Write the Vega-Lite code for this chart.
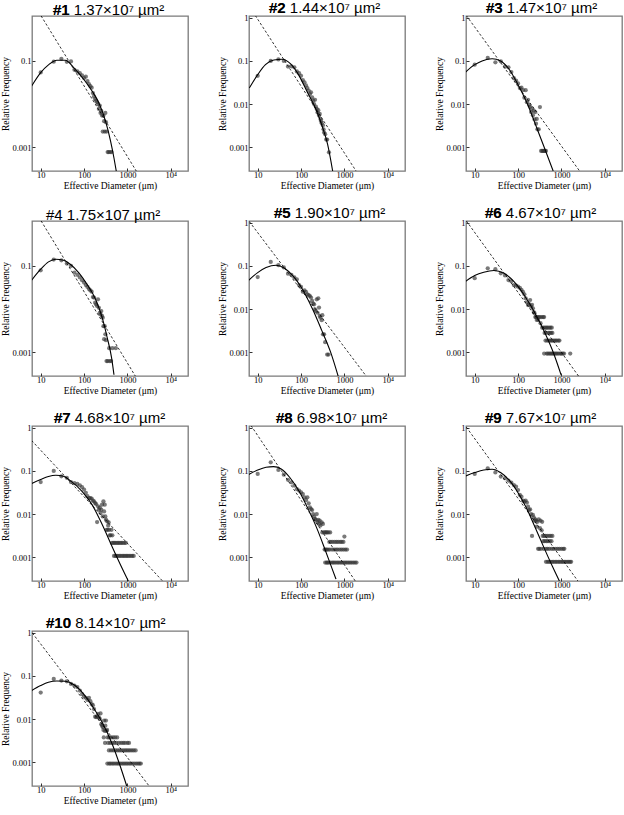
{
"$schema": "https://vega.github.io/schema/vega-lite/v6.json",
"padding": {"left": 0, "top": 0, "right": 0, "bottom": 0},
"columns": 3,
"spacing": {"row": 14, "column": 28},
"datasets": {
"pts": [
{"p":1,"x":10,"y":0.054},{"p":1,"x":20,"y":0.096},{"p":1,"x":30,"y":0.112},{"p":1,"x":40,"y":0.095},{"p":1,"x":50,"y":0.097},{"p":1,"x":60,"y":0.062},{"p":1,"x":70,"y":0.057},{"p":1,"x":80,"y":0.052},{"p":1,"x":90,"y":0.046},{"p":1,"x":100,"y":0.040},{"p":1,"x":110,"y":0.043},{"p":1,"x":120,"y":0.034},{"p":1,"x":130,"y":0.029},{"p":1,"x":140,"y":0.026},{"p":1,"x":150,"y":0.024},{"p":1,"x":160,"y":0.018},{"p":1,"x":170,"y":0.015},{"p":1,"x":180,"y":0.013},{"p":1,"x":190,"y":0.012},{"p":1,"x":200,"y":0.011},{"p":1,"x":210,"y":0.0100},{"p":1,"x":220,"y":0.0077},{"p":1,"x":230,"y":0.0092},{"p":1,"x":240,"y":0.0062},{"p":1,"x":250,"y":0.0069},{"p":1,"x":260,"y":0.0054},{"p":1,"x":270,"y":0.0023},{"p":1,"x":280,"y":0.0054},{"p":1,"x":290,"y":0.0040},{"p":1,"x":300,"y":0.0023},{"p":1,"x":310,"y":0.0062},{"p":1,"x":320,"y":0.0038},{"p":1,"x":330,"y":0.0023},{"p":1,"x":350,"y":0.00077},{"p":1,"x":370,"y":0.00077},{"p":1,"x":400,"y":0.00077},{"p":1,"x":430,"y":0.00077},
{"p":2,"x":10,"y":0.045},{"p":2,"x":20,"y":0.10},{"p":2,"x":30,"y":0.108},{"p":2,"x":40,"y":0.10},{"p":2,"x":50,"y":0.074},{"p":2,"x":60,"y":0.075},{"p":2,"x":70,"y":0.071},{"p":2,"x":80,"y":0.057},{"p":2,"x":90,"y":0.052},{"p":2,"x":100,"y":0.045},{"p":2,"x":110,"y":0.036},{"p":2,"x":120,"y":0.032},{"p":2,"x":130,"y":0.027},{"p":2,"x":140,"y":0.0235},{"p":2,"x":150,"y":0.0205},{"p":2,"x":160,"y":0.017},{"p":2,"x":170,"y":0.0187},{"p":2,"x":180,"y":0.0143},{"p":2,"x":190,"y":0.012},{"p":2,"x":200,"y":0.010},{"p":2,"x":210,"y":0.0125},{"p":2,"x":220,"y":0.0087},{"p":2,"x":230,"y":0.0077},{"p":2,"x":240,"y":0.0064},{"p":2,"x":250,"y":0.0072},{"p":2,"x":260,"y":0.0054},{"p":2,"x":270,"y":0.0059},{"p":2,"x":280,"y":0.0045},{"p":2,"x":290,"y":0.004},{"p":2,"x":300,"y":0.0036},{"p":2,"x":320,"y":0.0032},{"p":2,"x":330,"y":0.0026},{"p":2,"x":340,"y":0.0022},{"p":2,"x":360,"y":0.0020},{"p":2,"x":380,"y":0.0015},{"p":2,"x":400,"y":0.0015},{"p":2,"x":440,"y":0.00076},
{"p":3,"x":10,"y":0.082},{"p":3,"x":20,"y":0.117},{"p":3,"x":30,"y":0.093},{"p":3,"x":40,"y":0.098},{"p":3,"x":50,"y":0.074},{"p":3,"x":60,"y":0.071},{"p":3,"x":70,"y":0.055},{"p":3,"x":80,"y":0.040},{"p":3,"x":90,"y":0.035},{"p":3,"x":100,"y":0.030},{"p":3,"x":110,"y":0.0235},{"p":3,"x":120,"y":0.024},{"p":3,"x":130,"y":0.021},{"p":3,"x":140,"y":0.014},{"p":3,"x":150,"y":0.021},{"p":3,"x":160,"y":0.011},{"p":3,"x":170,"y":0.0125},{"p":3,"x":180,"y":0.0095},{"p":3,"x":190,"y":0.0086},{"p":3,"x":200,"y":0.0065},{"p":3,"x":210,"y":0.0078},{"p":3,"x":220,"y":0.0055},{"p":3,"x":230,"y":0.007},{"p":3,"x":240,"y":0.0044},{"p":3,"x":250,"y":0.0065},{"p":3,"x":260,"y":0.0035},{"p":3,"x":270,"y":0.0045},{"p":3,"x":280,"y":0.0026},{"p":3,"x":300,"y":0.0026},{"p":3,"x":320,"y":0.0085},{"p":3,"x":340,"y":0.00082},{"p":3,"x":360,"y":0.00082},{"p":3,"x":380,"y":0.00082},{"p":3,"x":400,"y":0.00082},{"p":3,"x":420,"y":0.00082},{"p":3,"x":440,"y":0.00082},
{"p":4,"x":10,"y":0.079},{"p":4,"x":20,"y":0.14},{"p":4,"x":30,"y":0.135},{"p":4,"x":40,"y":0.113},{"p":4,"x":50,"y":0.10},{"p":4,"x":60,"y":0.070},{"p":4,"x":70,"y":0.062},{"p":4,"x":80,"y":0.054},{"p":4,"x":90,"y":0.0465},{"p":4,"x":100,"y":0.041},{"p":4,"x":110,"y":0.036},{"p":4,"x":120,"y":0.0325},{"p":4,"x":130,"y":0.029},{"p":4,"x":140,"y":0.027},{"p":4,"x":150,"y":0.0253},{"p":4,"x":160,"y":0.019},{"p":4,"x":170,"y":0.0185},{"p":4,"x":180,"y":0.014},{"p":4,"x":190,"y":0.0128},{"p":4,"x":200,"y":0.0117},{"p":4,"x":210,"y":0.0168},{"p":4,"x":220,"y":0.0107},{"p":4,"x":230,"y":0.0082},{"p":4,"x":240,"y":0.0075},{"p":4,"x":250,"y":0.009},{"p":4,"x":260,"y":0.0069},{"p":4,"x":270,"y":0.0063},{"p":4,"x":280,"y":0.0040},{"p":4,"x":290,"y":0.0020},{"p":4,"x":300,"y":0.0040},{"p":4,"x":310,"y":0.0026},{"p":4,"x":320,"y":0.0019},{"p":4,"x":330,"y":0.00062},{"p":4,"x":350,"y":0.00062},{"p":4,"x":380,"y":0.00124},{"p":4,"x":390,"y":0.00062},{"p":4,"x":420,"y":0.00062},{"p":4,"x":450,"y":0.00124},{"p":4,"x":540,"y":0.00124},
{"p":5,"x":10,"y":0.055},{"p":5,"x":20,"y":0.124},{"p":5,"x":30,"y":0.104},{"p":5,"x":40,"y":0.092},{"p":5,"x":50,"y":0.066},{"p":5,"x":60,"y":0.062},{"p":5,"x":70,"y":0.054},{"p":5,"x":80,"y":0.049},{"p":5,"x":90,"y":0.036},{"p":5,"x":100,"y":0.0325},{"p":5,"x":110,"y":0.0253},{"p":5,"x":120,"y":0.027},{"p":5,"x":130,"y":0.025},{"p":5,"x":140,"y":0.022},{"p":5,"x":150,"y":0.021},{"p":5,"x":160,"y":0.020},{"p":5,"x":170,"y":0.0184},{"p":5,"x":180,"y":0.0154},{"p":5,"x":190,"y":0.0133},{"p":5,"x":200,"y":0.0129},{"p":5,"x":210,"y":0.0098},{"p":5,"x":220,"y":0.009},{"p":5,"x":230,"y":0.0168},{"p":5,"x":240,"y":0.0082},{"p":5,"x":250,"y":0.0177},{"p":5,"x":260,"y":0.0108},{"p":5,"x":270,"y":0.0069},{"p":5,"x":280,"y":0.0063},{"p":5,"x":300,"y":0.0055},{"p":5,"x":310,"y":0.0072},{"p":5,"x":320,"y":0.0026},{"p":5,"x":340,"y":0.0026},{"p":5,"x":360,"y":0.0017},{"p":5,"x":400,"y":0.00088},{"p":5,"x":430,"y":0.00088},
{"p":6,"x":10,"y":0.052},{"p":6,"x":20,"y":0.088},{"p":6,"x":30,"y":0.084},{"p":6,"x":40,"y":0.0675},{"p":6,"x":50,"y":0.060},{"p":6,"x":60,"y":0.047},{"p":6,"x":70,"y":0.044},{"p":6,"x":80,"y":0.036},{"p":6,"x":90,"y":0.035},{"p":6,"x":100,"y":0.033},{"p":6,"x":110,"y":0.031},{"p":6,"x":120,"y":0.028},{"p":6,"x":130,"y":0.025},{"p":6,"x":140,"y":0.022},{"p":6,"x":150,"y":0.0177},{"p":6,"x":160,"y":0.0143},{"p":6,"x":170,"y":0.0124},{"p":6,"x":180,"y":0.013},{"p":6,"x":190,"y":0.0162},{"p":6,"x":200,"y":0.0115},{"p":6,"x":210,"y":0.0125},{"p":6,"x":220,"y":0.0104},{"p":6,"x":230,"y":0.0085},{"p":6,"x":240,"y":0.008},{"p":6,"x":250,"y":0.0065},{"p":6,"x":260,"y":0.0065},{"p":6,"x":270,"y":0.0056},{"p":6,"x":280,"y":0.0065},{"p":6,"x":290,"y":0.0056},{"p":6,"x":300,"y":0.0065},{"p":6,"x":320,"y":0.0065},{"p":6,"x":330,"y":0.0047},{"p":6,"x":350,"y":0.0065},{"p":6,"x":360,"y":0.0037},{"p":6,"x":380,"y":0.0065},{"p":6,"x":390,"y":0.0037},{"p":6,"x":400,"y":0.0065},{"p":6,"x":410,"y":0.0028},{"p":6,"x":420,"y":0.0037},{"p":6,"x":440,"y":0.0028},{"p":6,"x":450,"y":0.0037},{"p":6,"x":480,"y":0.0037},{"p":6,"x":500,"y":0.0028},{"p":6,"x":520,"y":0.0037},{"p":6,"x":540,"y":0.0028},{"p":6,"x":560,"y":0.0037},{"p":6,"x":580,"y":0.0028},{"p":6,"x":600,"y":0.0037},{"p":6,"x":620,"y":0.0028},
{"p":6,"x":430,"y":0.00186},{"p":6,"x":470,"y":0.00186},{"p":6,"x":510,"y":0.00186},{"p":6,"x":550,"y":0.00186},{"p":6,"x":590,"y":0.00186},{"p":6,"x":630,"y":0.00186},{"p":6,"x":680,"y":0.00186},{"p":6,"x":730,"y":0.00186},{"p":6,"x":780,"y":0.00186},{"p":6,"x":850,"y":0.00186},{"p":6,"x":900,"y":0.00186},
{"p":6,"x":400,"y":0.00093},{"p":6,"x":460,"y":0.00093},{"p":6,"x":490,"y":0.00093},{"p":6,"x":530,"y":0.00093},{"p":6,"x":570,"y":0.00093},{"p":6,"x":610,"y":0.00093},{"p":6,"x":650,"y":0.00093},{"p":6,"x":700,"y":0.00093},{"p":6,"x":750,"y":0.00093},{"p":6,"x":800,"y":0.00093},{"p":6,"x":870,"y":0.00093},{"p":6,"x":950,"y":0.00093},{"p":6,"x":1000,"y":0.00093},{"p":6,"x":1080,"y":0.00093},{"p":6,"x":1150,"y":0.00093},{"p":6,"x":1600,"y":0.00093},
{"p":7,"x":10,"y":0.055},{"p":7,"x":20,"y":0.10},{"p":7,"x":30,"y":0.075},{"p":7,"x":40,"y":0.069},{"p":7,"x":50,"y":0.055},{"p":7,"x":60,"y":0.052},{"p":7,"x":70,"y":0.050},{"p":7,"x":80,"y":0.0465},{"p":7,"x":90,"y":0.042},{"p":7,"x":100,"y":0.037},{"p":7,"x":110,"y":0.031},{"p":7,"x":120,"y":0.026},{"p":7,"x":130,"y":0.0235},{"p":7,"x":140,"y":0.0235},{"p":7,"x":150,"y":0.0228},{"p":7,"x":160,"y":0.0204},{"p":7,"x":170,"y":0.0197},{"p":7,"x":180,"y":0.018},{"p":7,"x":190,"y":0.017},{"p":7,"x":200,"y":0.0065},{"p":7,"x":210,"y":0.0151},{"p":7,"x":220,"y":0.0126},{"p":7,"x":230,"y":0.014},{"p":7,"x":240,"y":0.0106},{"p":7,"x":250,"y":0.0126},{"p":7,"x":260,"y":0.0165},{"p":7,"x":270,"y":0.0088},{"p":7,"x":280,"y":0.0197},{"p":7,"x":290,"y":0.0115},{"p":7,"x":300,"y":0.0165},{"p":7,"x":310,"y":0.0088},{"p":7,"x":320,"y":0.0074},{"p":7,"x":330,"y":0.0043},{"p":7,"x":340,"y":0.0068},{"p":7,"x":350,"y":0.0043},{"p":7,"x":360,"y":0.0054},{"p":7,"x":370,"y":0.0064},{"p":7,"x":380,"y":0.0043},{"p":7,"x":390,"y":0.0032},{"p":7,"x":410,"y":0.0032},{"p":7,"x":430,"y":0.0043},{"p":7,"x":450,"y":0.0032},
{"p":7,"x":440,"y":0.00214},{"p":7,"x":470,"y":0.00214},{"p":7,"x":500,"y":0.00214},{"p":7,"x":540,"y":0.00214},{"p":7,"x":580,"y":0.00214},{"p":7,"x":620,"y":0.00214},{"p":7,"x":670,"y":0.00214},{"p":7,"x":720,"y":0.00214},{"p":7,"x":780,"y":0.00214},{"p":7,"x":850,"y":0.00214},{"p":7,"x":920,"y":0.00214},
{"p":7,"x":490,"y":0.00107},{"p":7,"x":530,"y":0.00107},{"p":7,"x":560,"y":0.00107},{"p":7,"x":600,"y":0.00107},{"p":7,"x":650,"y":0.00107},{"p":7,"x":700,"y":0.00107},{"p":7,"x":760,"y":0.00107},{"p":7,"x":820,"y":0.00107},{"p":7,"x":880,"y":0.00107},{"p":7,"x":950,"y":0.00107},{"p":7,"x":1020,"y":0.00107},{"p":7,"x":1100,"y":0.00107},{"p":7,"x":1200,"y":0.00107},{"p":7,"x":1300,"y":0.00107},{"p":7,"x":1400,"y":0.00107},
{"p":8,"x":10,"y":0.085},{"p":8,"x":20,"y":0.158},{"p":8,"x":30,"y":0.105},{"p":8,"x":40,"y":0.082},{"p":8,"x":50,"y":0.062},{"p":8,"x":60,"y":0.0545},{"p":8,"x":70,"y":0.0456},{"p":8,"x":80,"y":0.038},{"p":8,"x":90,"y":0.035},{"p":8,"x":100,"y":0.032},{"p":8,"x":110,"y":0.029},{"p":8,"x":120,"y":0.0244},{"p":8,"x":130,"y":0.021},{"p":8,"x":140,"y":0.0244},{"p":8,"x":150,"y":0.0177},{"p":8,"x":160,"y":0.0143},{"p":8,"x":170,"y":0.013},{"p":8,"x":180,"y":0.0124},{"p":8,"x":190,"y":0.010},{"p":8,"x":200,"y":0.0087},{"p":8,"x":210,"y":0.0077},{"p":8,"x":220,"y":0.0073},{"p":8,"x":230,"y":0.010},{"p":8,"x":240,"y":0.0064},{"p":8,"x":250,"y":0.0073},{"p":8,"x":260,"y":0.0059},{"p":8,"x":270,"y":0.0070},{"p":8,"x":280,"y":0.0054},{"p":8,"x":300,"y":0.0064},{"p":8,"x":320,"y":0.0059},
{"p":8,"x":310,"y":0.00375},{"p":8,"x":340,"y":0.00375},{"p":8,"x":360,"y":0.00375},{"p":8,"x":380,"y":0.00375},{"p":8,"x":400,"y":0.00375},{"p":8,"x":430,"y":0.00375},{"p":8,"x":470,"y":0.00375},
{"p":8,"x":450,"y":0.00225},{"p":8,"x":490,"y":0.00225},{"p":8,"x":540,"y":0.00225},{"p":8,"x":600,"y":0.00225},{"p":8,"x":660,"y":0.00225},{"p":8,"x":720,"y":0.00225},{"p":8,"x":800,"y":0.00225},{"p":8,"x":870,"y":0.00225},{"p":8,"x":950,"y":0.00225},{"p":8,"x":1000,"y":0.0030},
{"p":8,"x":350,"y":0.0015},{"p":8,"x":370,"y":0.0015},{"p":8,"x":390,"y":0.0015},{"p":8,"x":420,"y":0.0015},{"p":8,"x":460,"y":0.0015},{"p":8,"x":520,"y":0.0015},{"p":8,"x":580,"y":0.0015},{"p":8,"x":640,"y":0.0015},{"p":8,"x":700,"y":0.0015},{"p":8,"x":780,"y":0.0015},{"p":8,"x":860,"y":0.0015},{"p":8,"x":950,"y":0.0015},{"p":8,"x":1050,"y":0.0015},{"p":8,"x":1150,"y":0.0015},
{"p":8,"x":360,"y":0.00075},{"p":8,"x":390,"y":0.00075},{"p":8,"x":410,"y":0.00075},{"p":8,"x":440,"y":0.00075},{"p":8,"x":480,"y":0.00075},{"p":8,"x":530,"y":0.00075},{"p":8,"x":570,"y":0.00075},{"p":8,"x":620,"y":0.00075},{"p":8,"x":680,"y":0.00075},{"p":8,"x":740,"y":0.00075},{"p":8,"x":810,"y":0.00075},{"p":8,"x":880,"y":0.00075},{"p":8,"x":960,"y":0.00075},{"p":8,"x":1040,"y":0.00075},{"p":8,"x":1130,"y":0.00075},{"p":8,"x":1230,"y":0.00075},{"p":8,"x":1340,"y":0.00075},{"p":8,"x":1460,"y":0.00075},{"p":8,"x":1600,"y":0.00075},{"p":8,"x":1750,"y":0.00075},{"p":8,"x":1900,"y":0.00075},
{"p":9,"x":10,"y":0.085},{"p":9,"x":20,"y":0.115},{"p":9,"x":30,"y":0.092},{"p":9,"x":40,"y":0.074},{"p":9,"x":50,"y":0.068},{"p":9,"x":60,"y":0.0597},{"p":9,"x":70,"y":0.0536},{"p":9,"x":80,"y":0.047},{"p":9,"x":90,"y":0.0432},{"p":9,"x":100,"y":0.036},{"p":9,"x":110,"y":0.0277},{"p":9,"x":120,"y":0.0253},{"p":9,"x":130,"y":0.0204},{"p":9,"x":140,"y":0.0194},{"p":9,"x":150,"y":0.0204},{"p":9,"x":160,"y":0.0184},{"p":9,"x":170,"y":0.0148},{"p":9,"x":180,"y":0.0124},{"p":9,"x":190,"y":0.0128},{"p":9,"x":200,"y":0.010},{"p":9,"x":210,"y":0.0031},{"p":9,"x":220,"y":0.0095},{"p":9,"x":230,"y":0.0084},{"p":9,"x":240,"y":0.007},{"p":9,"x":250,"y":0.0075},{"p":9,"x":260,"y":0.007},{"p":9,"x":270,"y":0.0051},{"p":9,"x":280,"y":0.0066},{"p":9,"x":300,"y":0.0075},{"p":9,"x":320,"y":0.0047},{"p":9,"x":330,"y":0.007},{"p":9,"x":350,"y":0.0042},{"p":9,"x":360,"y":0.0066},
{"p":9,"x":370,"y":0.0031},{"p":9,"x":400,"y":0.0031},{"p":9,"x":430,"y":0.0031},{"p":9,"x":470,"y":0.0031},{"p":9,"x":520,"y":0.0031},{"p":9,"x":570,"y":0.0031},{"p":9,"x":620,"y":0.0031},
{"p":9,"x":380,"y":0.00234},{"p":9,"x":410,"y":0.00234},{"p":9,"x":450,"y":0.00234},{"p":9,"x":490,"y":0.00234},{"p":9,"x":540,"y":0.00234},{"p":9,"x":590,"y":0.00234},
{"p":9,"x":290,"y":0.00156},{"p":9,"x":310,"y":0.00156},{"p":9,"x":340,"y":0.00156},{"p":9,"x":390,"y":0.00156},{"p":9,"x":440,"y":0.00156},{"p":9,"x":480,"y":0.00156},{"p":9,"x":530,"y":0.00156},{"p":9,"x":600,"y":0.00156},{"p":9,"x":660,"y":0.00156},{"p":9,"x":740,"y":0.00156},{"p":9,"x":820,"y":0.00156},{"p":9,"x":900,"y":0.00156},{"p":9,"x":1000,"y":0.00156},{"p":9,"x":1100,"y":0.00156},{"p":9,"x":1170,"y":0.00156},
{"p":9,"x":440,"y":0.00078},{"p":9,"x":480,"y":0.00078},{"p":9,"x":520,"y":0.00078},{"p":9,"x":560,"y":0.00078},{"p":9,"x":610,"y":0.00078},{"p":9,"x":660,"y":0.00078},{"p":9,"x":720,"y":0.00078},{"p":9,"x":780,"y":0.00078},{"p":9,"x":850,"y":0.00078},{"p":9,"x":920,"y":0.00078},{"p":9,"x":1000,"y":0.00078},{"p":9,"x":1080,"y":0.00078},{"p":9,"x":1170,"y":0.00078},{"p":9,"x":1260,"y":0.00078},{"p":9,"x":1360,"y":0.00078},{"p":9,"x":1470,"y":0.00078},{"p":9,"x":1580,"y":0.00078},{"p":9,"x":1680,"y":0.00078},
{"p":10,"x":10,"y":0.041},{"p":10,"x":20,"y":0.085},{"p":10,"x":30,"y":0.078},{"p":10,"x":40,"y":0.075},{"p":10,"x":50,"y":0.065},{"p":10,"x":60,"y":0.0596},{"p":10,"x":70,"y":0.055},{"p":10,"x":80,"y":0.0456},{"p":10,"x":90,"y":0.038},{"p":10,"x":100,"y":0.033},{"p":10,"x":110,"y":0.031},{"p":10,"x":120,"y":0.0277},{"p":10,"x":130,"y":0.031},{"p":10,"x":140,"y":0.026},{"p":10,"x":150,"y":0.0223},{"p":10,"x":160,"y":0.021},{"p":10,"x":170,"y":0.017},{"p":10,"x":180,"y":0.0113},{"p":10,"x":190,"y":0.011},{"p":10,"x":200,"y":0.0113},{"p":10,"x":210,"y":0.0131},{"p":10,"x":220,"y":0.011},{"p":10,"x":230,"y":0.0101},{"p":10,"x":240,"y":0.0135},{"p":10,"x":250,"y":0.0076},{"p":10,"x":260,"y":0.0070},{"p":10,"x":270,"y":0.0065},{"p":10,"x":280,"y":0.0056},{"p":10,"x":290,"y":0.0092},{"p":10,"x":300,"y":0.0053},{"p":10,"x":310,"y":0.0070},{"p":10,"x":320,"y":0.0092},{"p":10,"x":330,"y":0.0053},{"p":10,"x":340,"y":0.0056},
{"p":10,"x":285,"y":0.00374},{"p":10,"x":350,"y":0.00374},{"p":10,"x":380,"y":0.00374},{"p":10,"x":420,"y":0.00374},{"p":10,"x":470,"y":0.00374},{"p":10,"x":520,"y":0.00374},{"p":10,"x":580,"y":0.00374},
{"p":10,"x":305,"y":0.0028},{"p":10,"x":360,"y":0.0028},{"p":10,"x":400,"y":0.0028},{"p":10,"x":450,"y":0.0028},{"p":10,"x":500,"y":0.0028},{"p":10,"x":560,"y":0.0028},{"p":10,"x":640,"y":0.0028},{"p":10,"x":720,"y":0.0028},{"p":10,"x":800,"y":0.0028},{"p":10,"x":880,"y":0.0028},{"p":10,"x":1000,"y":0.0028},{"p":10,"x":1090,"y":0.0028},
{"p":10,"x":375,"y":0.00187},{"p":10,"x":420,"y":0.00187},{"p":10,"x":470,"y":0.00187},{"p":10,"x":530,"y":0.00187},{"p":10,"x":590,"y":0.00187},{"p":10,"x":650,"y":0.00187},{"p":10,"x":720,"y":0.00187},{"p":10,"x":800,"y":0.00187},{"p":10,"x":880,"y":0.00187},{"p":10,"x":960,"y":0.00187},{"p":10,"x":1050,"y":0.00187},{"p":10,"x":1150,"y":0.00187},{"p":10,"x":1270,"y":0.00187},{"p":10,"x":1400,"y":0.00187},{"p":10,"x":1550,"y":0.00187},
{"p":10,"x":345,"y":0.00093},{"p":10,"x":380,"y":0.00093},{"p":10,"x":410,"y":0.00093},{"p":10,"x":450,"y":0.00093},{"p":10,"x":490,"y":0.00093},{"p":10,"x":540,"y":0.00093},{"p":10,"x":590,"y":0.00093},{"p":10,"x":640,"y":0.00093},{"p":10,"x":700,"y":0.00093},{"p":10,"x":770,"y":0.00093},{"p":10,"x":840,"y":0.00093},{"p":10,"x":920,"y":0.00093},{"p":10,"x":1000,"y":0.00093},{"p":10,"x":1100,"y":0.00093},{"p":10,"x":1200,"y":0.00093},{"p":10,"x":1320,"y":0.00093},{"p":10,"x":1450,"y":0.00093},{"p":10,"x":1600,"y":0.00093},{"p":10,"x":1750,"y":0.00093},{"p":10,"x":1900,"y":0.00093},{"p":10,"x":2040,"y":0.00093}
],
"fit": [
{"p":1,"x":6.18,"y":0.0262},{"p":1,"x":10,"y":0.0536},{"p":1,"x":15.1,"y":0.081},{"p":1,"x":23.6,"y":0.104},{"p":1,"x":36.8,"y":0.104},{"p":1,"x":57.5,"y":0.070},{"p":1,"x":98,"y":0.0375},{"p":1,"x":153,"y":0.020},{"p":1,"x":219,"y":0.0107},{"p":1,"x":313,"y":0.0040},{"p":1,"x":409,"y":0.00138},{"p":1,"x":490,"y":0.00056},{"p":1,"x":555,"y":0.000275},
{"p":2,"x":6.4,"y":0.0235},{"p":2,"x":10,"y":0.048},{"p":2,"x":15.1,"y":0.082},{"p":2,"x":23.6,"y":0.105},{"p":2,"x":36.8,"y":0.109},{"p":2,"x":57.5,"y":0.085},{"p":2,"x":89.8,"y":0.0456},{"p":2,"x":140,"y":0.0187},{"p":2,"x":219,"y":0.0077},{"p":2,"x":313,"y":0.0029},{"p":2,"x":409,"y":0.00117},{"p":2,"x":536,"y":0.00028},
{"p":3,"x":6.07,"y":0.0545},{"p":3,"x":10,"y":0.082},{"p":3,"x":14.8,"y":0.10},{"p":3,"x":25.3,"y":0.112},{"p":3,"x":39.5,"y":0.10},{"p":3,"x":61.6,"y":0.065},{"p":3,"x":96.6,"y":0.030},{"p":3,"x":165,"y":0.010},{"p":3,"x":282,"y":0.0025},{"p":3,"x":403,"y":0.00098},{"p":3,"x":646,"y":0.00028},
{"p":4,"x":6.18,"y":0.0465},{"p":4,"x":10,"y":0.0837},{"p":4,"x":15.1,"y":0.124},{"p":4,"x":22.3,"y":0.143},{"p":4,"x":33.6,"y":0.135},{"p":4,"x":48,"y":0.109},{"p":4,"x":75.2,"y":0.070},{"p":4,"x":117,"y":0.0375},{"p":4,"x":184,"y":0.0168},{"p":4,"x":262,"y":0.0063},{"p":4,"x":343,"y":0.00215},{"p":4,"x":432,"y":0.00074},{"p":4,"x":490,"y":0.0003},
{"p":5,"x":6.18,"y":0.0465},{"p":5,"x":10,"y":0.070},{"p":5,"x":15.6,"y":0.0915},{"p":5,"x":26.7,"y":0.104},{"p":5,"x":41.7,"y":0.0883},{"p":5,"x":65.1,"y":0.0585},{"p":5,"x":100,"y":0.0325},{"p":5,"x":184,"y":0.010},{"p":5,"x":300,"y":0.0032},{"p":5,"x":481,"y":0.001},{"p":5,"x":724,"y":0.00027},
{"p":6,"x":6.07,"y":0.0433},{"p":6,"x":10,"y":0.0596},{"p":6,"x":16.2,"y":0.0712},{"p":6,"x":27.7,"y":0.078},{"p":6,"x":47.2,"y":0.0675},{"p":6,"x":80.7,"y":0.0433},{"p":6,"x":138,"y":0.0212},{"p":6,"x":236,"y":0.0087},{"p":6,"x":403,"y":0.0030},{"p":6,"x":687,"y":0.00085},{"p":6,"x":980,"y":0.0003},
{"p":7,"x":6.18,"y":0.0507},{"p":7,"x":10,"y":0.063},{"p":7,"x":15.1,"y":0.074},{"p":7,"x":22.3,"y":0.079},{"p":7,"x":33.6,"y":0.075},{"p":7,"x":48,"y":0.0596},{"p":7,"x":89.8,"y":0.0337},{"p":7,"x":153,"y":0.0165},{"p":7,"x":262,"y":0.0057},{"p":7,"x":450,"y":0.0017},{"p":7,"x":700,"y":0.00065},{"p":7,"x":1050,"y":0.00028},
{"p":8,"x":6.18,"y":0.082},{"p":8,"x":10,"y":0.105},{"p":8,"x":15.6,"y":0.122},{"p":8,"x":23.1,"y":0.126},{"p":8,"x":34.9,"y":0.111},{"p":8,"x":54.5,"y":0.0713},{"p":8,"x":93,"y":0.032},{"p":8,"x":146,"y":0.013},{"p":8,"x":227,"y":0.0049},{"p":8,"x":355,"y":0.00153},{"p":8,"x":507,"y":0.00058},{"p":8,"x":640,"y":0.00031},
{"p":9,"x":6.18,"y":0.0765},{"p":9,"x":10,"y":0.0915},{"p":9,"x":16.2,"y":0.105},{"p":9,"x":25.3,"y":0.109},{"p":9,"x":39.5,"y":0.0915},{"p":9,"x":61.6,"y":0.0618},{"p":9,"x":96.6,"y":0.033},{"p":9,"x":151,"y":0.0148},{"p":9,"x":236,"y":0.0055},{"p":9,"x":403,"y":0.0016},{"p":9,"x":631,"y":0.00059},{"p":9,"x":898,"y":0.00028},
{"p":10,"x":6.18,"y":0.0456},{"p":10,"x":10,"y":0.0596},{"p":10,"x":15.1,"y":0.0713},{"p":10,"x":23.6,"y":0.0765},{"p":10,"x":36.8,"y":0.075},{"p":10,"x":57.5,"y":0.063},{"p":10,"x":98,"y":0.038},{"p":10,"x":153,"y":0.0204},{"p":10,"x":262,"y":0.0084},{"p":10,"x":448,"y":0.0026},{"p":10,"x":700,"y":0.00075},{"p":10,"x":964,"y":0.00028}
],
"pow": [
{"p":1,"x":10.2,"y":1.11},{"p":1,"x":1620,"y":0.000275},
{"p":2,"x":8.8,"y":1.13},{"p":2,"x":1860,"y":0.00028},
{"p":3,"x":6.4,"y":1.13},{"p":3,"x":2630,"y":0.00028},
{"p":4,"x":10.2,"y":1.11},{"p":4,"x":1520,"y":0.00028},
{"p":5,"x":6.4,"y":1.07},{"p":5,"x":3170,"y":0.00028},
{"p":6,"x":6.4,"y":1.11},{"p":6,"x":2480,"y":0.00028},
{"p":7,"x":6.18,"y":0.507},{"p":7,"x":6470,"y":0.00028},
{"p":8,"x":7.0,"y":1.13},{"p":8,"x":1780,"y":0.00028},
{"p":9,"x":6.4,"y":1.04},{"p":9,"x":2400,"y":0.00028},
{"p":10,"x":6.4,"y":0.99},{"p":10,"x":3170,"y":0.00028}
]
},
"concat": [
{"title":{"text":"#1","subtitle":"#1 1.37×10⁷ µm²","dx":21},"width":156,"height":155,
"encoding":{"x":{"field":"x","type":"quantitative","scale":{"type":"log","domain":[6.3,25000],"nice":false},"axis":{"values":[10,100,1000,10000],"labelExpr":"datum.value >= 10000 ? '10⁴' : '' + datum.value","title":"Effective Diameter (μm)"}},
"y":{"field":"y","type":"quantitative","scale":{"type":"log","domain":[0.00028,1.1],"nice":false},"axis":{"values":[0.001,0.1],"labelExpr":"'' + datum.value","title":"Relative Frequency"}}},
"layer":[
{"data":{"name":"pts"},"transform":[{"filter":"datum.p == 1"}],"mark":{"type":"circle","size":18,"color":"#333","opacity":0.65}},
{"data":{"name":"fit"},"transform":[{"filter":"datum.p == 1"}],"mark":{"type":"line","color":"#000","strokeWidth":1.1,"clip":true,"interpolate":"monotone"},"encoding":{}},
{"data":{"name":"pow"},"transform":[{"filter":"datum.p == 1"}],"mark":{"type":"line","color":"#000","strokeWidth":0.8,"strokeDash":[2.5,2],"clip":true},"encoding":{}}
]},
{"title":{"text":"#2","subtitle":"#2 1.44×10⁷ µm²","dx":20},"width":156,"height":155,
"encoding":{"x":{"field":"x","type":"quantitative","scale":{"type":"log","domain":[6.3,25000],"nice":false},"axis":{"values":[10,100,1000,10000],"labelExpr":"datum.value >= 10000 ? '10⁴' : '' + datum.value","title":"Effective Diameter (μm)"}},
"y":{"field":"y","type":"quantitative","scale":{"type":"log","domain":[0.00028,1.1],"nice":false},"axis":{"values":[0.001,0.01,0.1,1],"labelExpr":"'' + datum.value","title":"Relative Frequency"}}},
"layer":[
{"data":{"name":"pts"},"transform":[{"filter":"datum.p == 2"}],"mark":{"type":"circle","size":18,"color":"#333","opacity":0.65}},
{"data":{"name":"fit"},"transform":[{"filter":"datum.p == 2"}],"mark":{"type":"line","color":"#000","strokeWidth":1.1,"clip":true,"interpolate":"monotone"},"encoding":{}},
{"data":{"name":"pow"},"transform":[{"filter":"datum.p == 2"}],"mark":{"type":"line","color":"#000","strokeWidth":0.8,"strokeDash":[2.5,2],"clip":true},"encoding":{}}
]},
{"title":{"text":"#3","subtitle":"#3 1.47×10⁷ µm²","dx":20},"width":156,"height":155,
"encoding":{"x":{"field":"x","type":"quantitative","scale":{"type":"log","domain":[6.3,25000],"nice":false},"axis":{"values":[10,100,1000,10000],"labelExpr":"datum.value >= 10000 ? '10⁴' : '' + datum.value","title":"Effective Diameter (μm)"}},
"y":{"field":"y","type":"quantitative","scale":{"type":"log","domain":[0.00028,1.1],"nice":false},"axis":{"values":[0.001,0.01,0.1,1],"labelExpr":"'' + datum.value","title":"Relative Frequency"}}},
"layer":[
{"data":{"name":"pts"},"transform":[{"filter":"datum.p == 3"}],"mark":{"type":"circle","size":18,"color":"#333","opacity":0.65}},
{"data":{"name":"fit"},"transform":[{"filter":"datum.p == 3"}],"mark":{"type":"line","color":"#000","strokeWidth":1.1,"clip":true,"interpolate":"monotone"},"encoding":{}},
{"data":{"name":"pow"},"transform":[{"filter":"datum.p == 3"}],"mark":{"type":"line","color":"#000","strokeWidth":0.8,"strokeDash":[2.5,2],"clip":true},"encoding":{}}
]},
{"title":{"text":"#4 1.75×107 µm²","fontWeight":"normal","dx":14},"width":156,"height":155,
"encoding":{"x":{"field":"x","type":"quantitative","scale":{"type":"log","domain":[6.3,25000],"nice":false},"axis":{"values":[10,100,1000,10000],"labelExpr":"datum.value >= 10000 ? '10⁴' : '' + datum.value","title":"Effective Diameter (μm)"}},
"y":{"field":"y","type":"quantitative","scale":{"type":"log","domain":[0.00028,1.1],"nice":false},"axis":{"values":[0.001,0.1],"labelExpr":"'' + datum.value","title":"Relative Frequency"}}},
"layer":[
{"data":{"name":"pts"},"transform":[{"filter":"datum.p == 4"}],"mark":{"type":"circle","size":18,"color":"#333","opacity":0.65}},
{"data":{"name":"fit"},"transform":[{"filter":"datum.p == 4"}],"mark":{"type":"line","color":"#000","strokeWidth":1.1,"clip":true,"interpolate":"monotone"},"encoding":{}},
{"data":{"name":"pow"},"transform":[{"filter":"datum.p == 4"}],"mark":{"type":"line","color":"#000","strokeWidth":0.8,"strokeDash":[2.5,2],"clip":true},"encoding":{}}
]},
{"title":{"text":"#5","subtitle":"#5 1.90×10⁷ µm²","dx":25},"width":156,"height":155,
"encoding":{"x":{"field":"x","type":"quantitative","scale":{"type":"log","domain":[6.3,25000],"nice":false},"axis":{"values":[10,100,1000,10000],"labelExpr":"datum.value >= 10000 ? '10⁴' : '' + datum.value","title":"Effective Diameter (μm)"}},
"y":{"field":"y","type":"quantitative","scale":{"type":"log","domain":[0.00028,1.1],"nice":false},"axis":{"values":[0.001,0.01,0.1,1],"labelExpr":"'' + datum.value","title":"Relative Frequency"}}},
"layer":[
{"data":{"name":"pts"},"transform":[{"filter":"datum.p == 5"}],"mark":{"type":"circle","size":18,"color":"#333","opacity":0.65}},
{"data":{"name":"fit"},"transform":[{"filter":"datum.p == 5"}],"mark":{"type":"line","color":"#000","strokeWidth":1.1,"clip":true,"interpolate":"monotone"},"encoding":{}},
{"data":{"name":"pow"},"transform":[{"filter":"datum.p == 5"}],"mark":{"type":"line","color":"#000","strokeWidth":0.8,"strokeDash":[2.5,2],"clip":true},"encoding":{}}
]},
{"title":{"text":"#6","subtitle":"#6 4.67×10⁷ µm²","dx":19},"width":156,"height":155,
"encoding":{"x":{"field":"x","type":"quantitative","scale":{"type":"log","domain":[6.3,25000],"nice":false},"axis":{"values":[10,100,1000,10000],"labelExpr":"datum.value >= 10000 ? '10⁴' : '' + datum.value","title":"Effective Diameter (μm)"}},
"y":{"field":"y","type":"quantitative","scale":{"type":"log","domain":[0.00028,1.1],"nice":false},"axis":{"values":[0.001,0.01,0.1,1],"labelExpr":"'' + datum.value","title":"Relative Frequency"}}},
"layer":[
{"data":{"name":"pts"},"transform":[{"filter":"datum.p == 6"}],"mark":{"type":"circle","size":18,"color":"#333","opacity":0.65}},
{"data":{"name":"fit"},"transform":[{"filter":"datum.p == 6"}],"mark":{"type":"line","color":"#000","strokeWidth":1.1,"clip":true,"interpolate":"monotone"},"encoding":{}},
{"data":{"name":"pow"},"transform":[{"filter":"datum.p == 6"}],"mark":{"type":"line","color":"#000","strokeWidth":0.8,"strokeDash":[2.5,2],"clip":true},"encoding":{}}
]},
{"title":{"text":"#7","subtitle":"#7 4.68×10⁷ µm²","dx":22},"width":156,"height":155,
"encoding":{"x":{"field":"x","type":"quantitative","scale":{"type":"log","domain":[6.3,25000],"nice":false},"axis":{"values":[10,100,1000,10000],"labelExpr":"datum.value >= 10000 ? '10⁴' : '' + datum.value","title":"Effective Diameter (μm)"}},
"y":{"field":"y","type":"quantitative","scale":{"type":"log","domain":[0.00028,1.1],"nice":false},"axis":{"values":[0.001,0.01,0.1,1],"labelExpr":"'' + datum.value","title":"Relative Frequency"}}},
"layer":[
{"data":{"name":"pts"},"transform":[{"filter":"datum.p == 7"}],"mark":{"type":"circle","size":18,"color":"#333","opacity":0.65}},
{"data":{"name":"fit"},"transform":[{"filter":"datum.p == 7"}],"mark":{"type":"line","color":"#000","strokeWidth":1.1,"clip":true,"interpolate":"monotone"},"encoding":{}},
{"data":{"name":"pow"},"transform":[{"filter":"datum.p == 7"}],"mark":{"type":"line","color":"#000","strokeWidth":0.8,"strokeDash":[2.5,2],"clip":true},"encoding":{}}
]},
{"title":{"text":"#8","subtitle":"#8 6.98×10⁷ µm²","dx":27},"width":156,"height":155,
"encoding":{"x":{"field":"x","type":"quantitative","scale":{"type":"log","domain":[6.3,25000],"nice":false},"axis":{"values":[10,100,1000,10000],"labelExpr":"datum.value >= 10000 ? '10⁴' : '' + datum.value","title":"Effective Diameter (μm)"}},
"y":{"field":"y","type":"quantitative","scale":{"type":"log","domain":[0.00028,1.1],"nice":false},"axis":{"values":[0.001,0.01,0.1,1],"labelExpr":"'' + datum.value","title":"Relative Frequency"}}},
"layer":[
{"data":{"name":"pts"},"transform":[{"filter":"datum.p == 8"}],"mark":{"type":"circle","size":18,"color":"#333","opacity":0.65}},
{"data":{"name":"fit"},"transform":[{"filter":"datum.p == 8"}],"mark":{"type":"line","color":"#000","strokeWidth":1.1,"clip":true,"interpolate":"monotone"},"encoding":{}},
{"data":{"name":"pow"},"transform":[{"filter":"datum.p == 8"}],"mark":{"type":"line","color":"#000","strokeWidth":0.8,"strokeDash":[2.5,2],"clip":true},"encoding":{}}
]},
{"title":{"text":"#9","subtitle":"#9 7.67×10⁷ µm²","dx":19},"width":156,"height":155,
"encoding":{"x":{"field":"x","type":"quantitative","scale":{"type":"log","domain":[6.3,25000],"nice":false},"axis":{"values":[10,100,1000,10000],"labelExpr":"datum.value >= 10000 ? '10⁴' : '' + datum.value","title":"Effective Diameter (μm)"}},
"y":{"field":"y","type":"quantitative","scale":{"type":"log","domain":[0.00028,1.1],"nice":false},"axis":{"values":[0.001,0.01,0.1,1],"labelExpr":"'' + datum.value","title":"Relative Frequency"}}},
"layer":[
{"data":{"name":"pts"},"transform":[{"filter":"datum.p == 9"}],"mark":{"type":"circle","size":18,"color":"#333","opacity":0.65}},
{"data":{"name":"fit"},"transform":[{"filter":"datum.p == 9"}],"mark":{"type":"line","color":"#000","strokeWidth":1.1,"clip":true,"interpolate":"monotone"},"encoding":{}},
{"data":{"name":"pow"},"transform":[{"filter":"datum.p == 9"}],"mark":{"type":"line","color":"#000","strokeWidth":0.8,"strokeDash":[2.5,2],"clip":true},"encoding":{}}
]},
{"title":{"text":"#10","subtitle":"#10 8.14×10⁷ µm²","dx":14},"width":156,"height":155,
"encoding":{"x":{"field":"x","type":"quantitative","scale":{"type":"log","domain":[6.3,25000],"nice":false},"axis":{"values":[10,100,1000,10000],"labelExpr":"datum.value >= 10000 ? '10⁴' : '' + datum.value","title":"Effective Diameter (μm)"}},
"y":{"field":"y","type":"quantitative","scale":{"type":"log","domain":[0.00028,1.1],"nice":false},"axis":{"values":[0.001,0.01,0.1,1],"labelExpr":"'' + datum.value","title":"Relative Frequency"}}},
"layer":[
{"data":{"name":"pts"},"transform":[{"filter":"datum.p == 10"}],"mark":{"type":"circle","size":18,"color":"#333","opacity":0.65}},
{"data":{"name":"fit"},"transform":[{"filter":"datum.p == 10"}],"mark":{"type":"line","color":"#000","strokeWidth":1.1,"clip":true,"interpolate":"monotone"},"encoding":{}},
{"data":{"name":"pow"},"transform":[{"filter":"datum.p == 10"}],"mark":{"type":"line","color":"#000","strokeWidth":0.8,"strokeDash":[2.5,2],"clip":true},"encoding":{}}
]}
],
"config": {
"view": {"stroke": "#7a7a7a", "strokeWidth": 1.3},
"axis": {"grid": false, "domain": false, "ticks": true, "tickSize": -3, "tickColor": "#333", "labelFont": "Liberation Serif", "labelFontSize": 8.5, "labelColor": "#000", "titleFont": "Liberation Serif", "titleFontSize": 9.5, "titleFontWeight": "normal", "titleColor": "#000", "labelFlush": false},
"axisX": {"labelPadding": 2, "titlePadding": 2},
"axisY": {"labelPadding": 4, "titlePadding": 1},
"title": {"font": "Liberation Sans", "fontSize": 15, "fontWeight": "bold", "color": "#000", "anchor": "start", "frame": "group", "offset": -2, "subtitleFont": "Liberation Sans", "subtitleFontSize": 15, "subtitleFontWeight": "normal", "subtitleColor": "#000", "subtitlePadding": -15}
}
}
